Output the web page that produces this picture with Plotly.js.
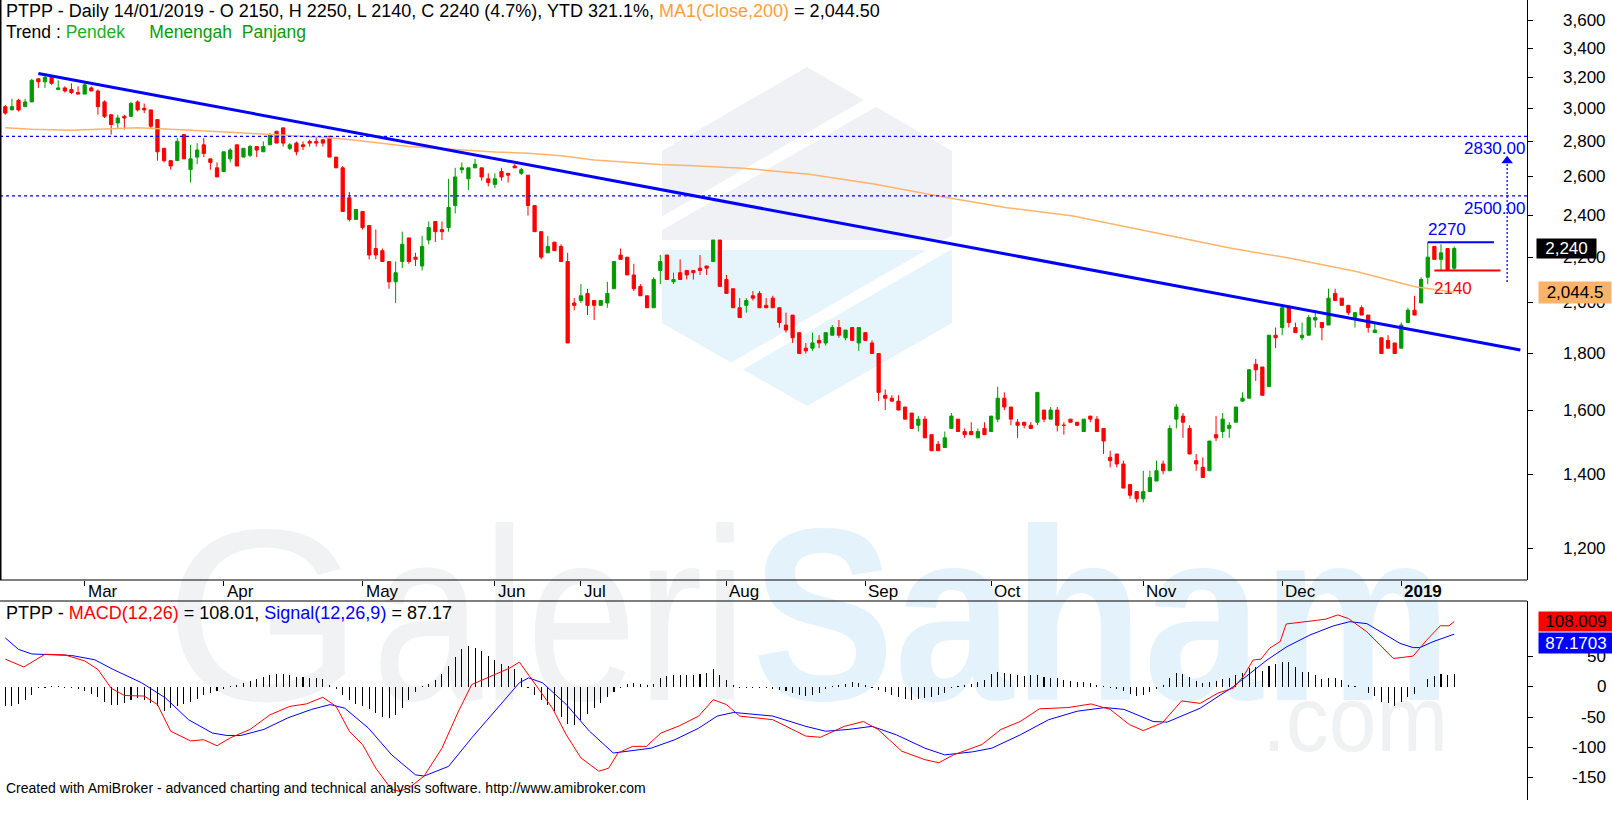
<!DOCTYPE html>
<html><head><meta charset="utf-8">
<script src="https://cdn.plot.ly/plotly-3.0.1.min.js"></script>
<style>
html,body{margin:0;padding:0;background:#fff;}
#wrap{position:relative;width:1612px;height:817px;overflow:hidden;background:#fff;}
#wm{position:absolute;left:0;top:0;}
#chart{position:absolute;left:0;top:0;width:1612px;height:817px;}
</style></head><body>
<div id="wrap">
<svg id="wm" width="1612" height="817" xmlns="http://www.w3.org/2000/svg">
  <defs><clipPath id="hex"><polygon points="662,151 807,67 952,151 952,323 807,406 662,323"/></clipPath></defs>
  <g clip-path="url(#hex)">
    <rect x="650" y="60" width="310" height="180" fill="#eff1f4"/>
    <rect x="650" y="250" width="310" height="170" fill="#e6f4fb"/>
    <line x1="640" y1="236" x2="980" y2="40" stroke="#fff" stroke-width="12"/>
    <line x1="640" y1="422" x2="980" y2="226" stroke="#fff" stroke-width="12"/>
  </g>
  <g font-family="Arial, Liberation Sans, sans-serif">
    <text x="164" y="700" font-size="245" fill="#f1f2f4" textLength="200" lengthAdjust="spacingAndGlyphs">G</text>
    <text x="372" y="700" font-size="245" fill="#f1f2f4" textLength="375" lengthAdjust="spacingAndGlyphs">aleri</text>
    <text x="752" y="700" font-size="245" font-weight="bold" fill="#e4f3fb" textLength="700" lengthAdjust="spacingAndGlyphs">Saham</text>
    <text x="1262" y="751" font-size="92" fill="#f0f1f3" textLength="186" lengthAdjust="spacingAndGlyphs">.com</text>
  </g>
</svg>
<div id="chart"></div>
</div>
<script>
// ---------- DATA ----------
const ticker = 'PTPP';
const lastDate = '14/01/2019';
const openP = [3010,2990,3050,3010,3040,3190,3170,3200,3120,3130,3120,3100,3090,3130,3110,3040,2960,2910,2950,2950,
3040,3000,2990,2930,2760,2690,2690,2840,2640,2710,2780,2700,2650,2630,2700,2780,2710,2720,2770,2740,
2780,2860,2880,2760,2790,2780,2800,2800,2810,2830,2710,2650,2490,2380,2420,2350,2240,2230,2180,2090,
2180,2290,2200,2160,2280,2370,2330,2340,2450,2640,2590,2650,2650,2590,2560,2630,2620,2660,2620,2610,
2450,2320,2220,2270,2250,2180,2000,2010,2040,2010,1990,2000,2060,2210,2200,2120,2070,2030,1980,2140,
2210,2090,2130,2140,2140,2150,2160,2180,2280,2100,2060,1980,1990,2030,2040,1990,2020,1980,1910,1950,
1880,1820,1820,1850,1840,1870,1900,1860,1900,1840,1880,1840,1800,1650,1640,1630,1610,1590,1550,1570,
1520,1490,1480,1540,1570,1530,1530,1510,1540,1530,1570,1640,1610,1560,1560,1550,1560,1600,1570,1600,
1550,1570,1560,1530,1580,1570,1540,1450,1460,1430,1370,1350,1330,1350,1380,1430,1410,1570,1580,1540,
1440,1420,1410,1520,1530,1540,1560,1630,1640,1760,1750,1680,1870,1900,1980,1900,1860,1870,1930,1920,
1910,2040,2020,1990,1940,1980,1950,1880,1860,1850,1840,1820,1920,1970,2000,2110,2250,2190,2240,2150];
const highP = [3020,3060,3060,3060,3190,3190,3220,3210,3180,3140,3160,3140,3160,3140,3120,3050,2960,2960,2960,3040,
3050,3030,2990,2930,2760,2690,2820,2840,2780,2790,2820,2700,2680,2740,2760,2780,2760,2780,2770,2800,
2850,2860,2880,2790,2800,2800,2810,2820,2810,2830,2710,2660,2520,2430,2420,2350,2330,2240,2180,2180,
2320,2290,2220,2300,2370,2370,2370,2590,2650,2680,2650,2700,2650,2620,2620,2650,2620,2670,2650,2610,
2450,2320,2300,2270,2260,2220,2020,2080,2060,2010,2010,2090,2180,2240,2200,2170,2080,2030,2110,2210,
2210,2130,2190,2140,2140,2210,2160,2280,2280,2120,2060,2020,2020,2050,2050,2020,2030,1980,1960,1950,
1880,1840,1880,1870,1880,1910,1930,1890,1900,1900,1880,1850,1800,1670,1650,1650,1610,1590,1580,1580,
1520,1500,1530,1590,1570,1540,1560,1540,1560,1580,1680,1660,1610,1570,1560,1560,1660,1600,1610,1610,
1560,1570,1560,1570,1580,1580,1540,1470,1460,1440,1370,1350,1410,1410,1440,1440,1550,1620,1590,1550,
1460,1450,1500,1580,1590,1560,1610,1660,1740,1780,1750,1870,1900,1990,1990,1920,1920,1950,1970,1920,
2060,2060,2020,1990,1960,1990,1950,1920,1860,1870,1840,1920,1980,2030,2110,2270,2250,2260,2240,2250];
const lowP = [2960,2990,2980,3010,3040,3130,3130,3150,3120,3100,3090,3090,3090,3110,2960,2940,2840,2880,2870,2950,
2980,2970,2880,2690,2680,2640,2690,2700,2570,2670,2710,2640,2600,2630,2680,2660,2710,2710,2710,2740,
2780,2790,2770,2750,2720,2750,2770,2770,2770,2710,2650,2420,2370,2380,2330,2190,2190,2180,2060,2000,
2150,2170,2160,2140,2260,2270,2280,2320,2410,2620,2530,2650,2580,2550,2540,2580,2570,2650,2610,2400,
2320,2190,2220,2230,2180,1840,1970,2000,1950,1930,1990,1980,2060,2190,2120,2050,2030,1980,1980,2080,
2100,2080,2100,2100,2100,2120,2120,2180,2070,2040,1980,1940,1960,2010,1980,1980,1980,1900,1880,1840,
1800,1800,1810,1820,1830,1870,1860,1850,1850,1810,1850,1800,1630,1600,1630,1600,1570,1540,1530,1510,
1470,1470,1480,1540,1530,1510,1520,1510,1520,1530,1560,1600,1550,1510,1540,1540,1550,1560,1570,1530,
1520,1560,1550,1530,1560,1530,1460,1420,1420,1360,1330,1320,1320,1350,1380,1400,1410,1540,1510,1460,
1410,1390,1410,1500,1510,1510,1560,1630,1640,1700,1650,1680,1820,1870,1900,1880,1850,1870,1900,1850,
1910,2010,1990,1950,1900,1950,1880,1880,1800,1820,1800,1820,1920,1950,2000,2080,2190,2140,2140,2140];
const closeP = [2970,3010,2990,3040,3180,3170,3200,3160,3130,3110,3100,3090,3150,3110,3010,2950,2900,2940,2940,3030,
2990,2990,2890,2740,2690,2660,2800,2700,2700,2750,2730,2680,2600,2740,2750,2660,2760,2770,2750,2770,
2840,2790,2790,2780,2740,2770,2790,2790,2790,2710,2650,2420,2380,2430,2340,2210,2210,2180,2090,2130,
2260,2180,2190,2250,2340,2320,2320,2440,2600,2650,2650,2670,2600,2570,2590,2600,2610,2650,2640,2450,
2320,2200,2250,2230,2180,1840,1990,2030,1990,1990,2010,2040,2180,2190,2120,2060,2030,1980,2100,2180,
2100,2100,2100,2120,2130,2140,2150,2280,2070,2040,1980,1940,2010,2020,1980,1980,1980,1920,1890,1860,
1800,1810,1840,1840,1880,1900,1870,1890,1850,1900,1850,1800,1660,1640,1630,1600,1570,1540,1570,1510,
1470,1470,1510,1580,1530,1520,1520,1530,1520,1580,1640,1610,1570,1550,1550,1540,1660,1570,1600,1550,
1550,1560,1550,1570,1570,1530,1500,1440,1430,1360,1340,1330,1350,1390,1410,1410,1540,1610,1560,1460,
1430,1390,1500,1510,1570,1550,1610,1640,1740,1740,1650,1870,1860,1980,1920,1880,1870,1940,1940,1900,
2020,2010,1990,1960,1960,1950,1900,1890,1800,1820,1800,1910,1970,1950,2100,2200,2190,2220,2140,2240];

// MA(Close,200) (bar index, value)
const maIdx = [0,4,10,16,20,25,28,31,34,37,41,45,50,54,58,61,65,69,74,79,84,89,94,99,104,111.5,121.5,131.5,141.4,151.4,161.4,171.3,181.3,185.3,194.2,204.2,213.1,219];
const maVal = [2880,2872,2866,2874,2880,2872,2864,2860,2854,2848,2838,2832,2819,2803,2784,2770,2761,2751,2739,2732,2717,2694,2679,2668,2661,2648,2615,2561,2496,2439,2397,2332,2265,2241,2195,2135,2069,2044.5];

// Down trend line (bar index, price)
const trendIdx = [5, 229];
const trendVal = [3226, 1813];

// Levels
const resistLevels = [2830, 2500];
const rangeHigh = 2270, rangeLow = 2140;
const rangeHighIdx = [215, 225], rangeLowIdx = [216, 226];
const arrowIdx = 227, arrowFrom = 2089, arrowTo = 2690;
const maLast = 2044.5;
const titleExtra = {chgPct: '4.7%', ytd: '321.1%', maText: '2,044.50'};

// MACD(12,26), Signal(9)
const macdIdx = [0,2.8,6,9,12,14,16,18,21,23,25,28,30,32,34,37,40,43,45.5,48,50,52,54,56,58.4,59.5,61,63.3,66,68.5,70.5,73.4,76.2,77.7,80.5,82.7,84.8,87,89.7,91.2,92.6,94.8,96.9,99.1,101.9,104.8,107,109,111,116,121,123.2,126.8,129.7,131.9,135.5,139,141.1,143.3,147.6,150.5,153.4,156.3,160.6,164.1,167,169.9,172,174.9,177.8,180.6,183.3,185.6,187.1,188.6,189.8,191.1,192.7,193.6,195.5,198.2,199.6,201.4,203,205.8,207.8,209.8,212.8,214.8,216.9,218.2,219];
const macdVal = [46,33,54,53,43,29,-2,-14,-15,-29,-73,-89,-87,-97,-84,-70,-46,-32,-28,-17,-32,-73,-95,-134,-169,-172,-167,-147,-101,-40,4,18,31,41,-2,-35,-79,-117,-139,-134,-109,-98,-98,-76,-64,-48,-21,-29,-48,-54,-81,-83,-65,-57,-70,-106,-120,-125,-112,-95,-70,-57,-36,-34,-28,-37,-62,-72,-59,-23,-27,-10,-2,17,44.5,46,64,75,104,106,110,112,119,113,91,69,47,51,77,101,101,108.01];
const sigIdx = [0,2,4,10,13.5,16.3,20.6,24.2,27.7,31.3,33.5,35.6,39.1,42.7,46.3,49.1,51.3,54.9,58.4,62,63.3,67,70.5,74.8,77.7,79.1,81.2,84.8,88.3,91.9,94,97.6,101.2,104.8,107.6,110.1,116,121,124,127.5,131,134.7,139,142,146.2,149.1,153.4,157.7,162,166.2,169.1,173.5,175.6,180.6,185.6,188.1,190.7,193.7,197.2,200.7,203.2,205.8,208.3,210.8,212.8,213.8,215.8,219];
const sigVal = [81,62,54.5,52,45,29,7,-18,-54,-76,-80,-80,-70,-51,-37,-29,-35,-68,-112,-145,-147,-131,-84,-29,7,15,7,-29,-73,-109,-106,-101,-87,-68,-48,-42,-48,-65,-73,-70,-65,-79,-101,-112,-107,-101,-79,-54,-40,-34,-37,-57,-58,-35,0.5,22.6,44.5,66.5,85.8,100.7,107.8,104.5,88.6,72,65,65,74.8,87.17];
const histVal = [-32,-32,-28,-21,-13,-2,-1,1,1,-1,
-2,-4,-7,-12,-17,-24,-29,-29,-26,-21,
-18,-21,-26,-32,-39,-35,-32,-28,-24,-19,
-14,-10,-6,-3,1,3,7,10,13,17,
20,21,21,19,17,16,15,15,13,4,
-4,-13,-21,-28,-32,-37,-43,-50,-51,-46,
-35,-21,-8,1,5,12,21,34,49,62,
67,65,59,51,45,38,34,29,15,-2,
-13,-21,-30,-40,-50,-61,-62,-54,-45,-35,
-26,-17,-8,-1,5,7,5,3,5,15,
18,19,19,20,20,21,23,30,20,12,
3,-2,-2,-2,-2,-2,-4,-5,-7,-10,
-13,-15,-13,-10,-4,1,3,5,8,6,
3,-1,-5,-8,-14,-16,-19,-21,-19,-18,
-17,-14,-10,-1,1,3,5,9,12,21,
25,23,21,19,18,19,20,17,15,15,
12,10,9,8,7,3,1,-1,-3,-7,
-12,-15,-13,-9,-4,4,15,23,21,16,
10,6,8,10,13,15,20,23,31,33,
27,35,38,41,42,33,25,24,20,13,
15,15,12,4,1,0,-10,-15,-24,-27,
-31,-24,-16,-12,0,13,18,21,20,21];
const macdLast = 108.009, sigLast = 87.1703;

// Axis labels
const monthIdx = [12,33,54,74,87,109,130,149,172,193,211];
const monthLbl = ['Mar','Apr','May','Jun','Jul','Aug','Sep','Oct','Nov','Dec','2019'];
const priceTicks = [1200,1400,1600,1800,2000,2200,2400,2600,2800,3000,3200,3400,3600];
const macdTicks = [50,0,-50,-100,-150];

// ---------- LAYOUT HELPERS ----------
const FONT = 'Arial, "Liberation Sans", sans-serif';
const W = 1612, H = 817, ML = 0, MR = 85, MT = 0, MB = 17;
const PW = W - ML - MR, PH = H - MT - MB;
const pxX = p => p / PW;              // figure px -> paper x
const pxY = p => (PH - p) / PH;       // figure px -> paper y
const XR = [-0.8, 230];
const xOut = p => XR[0] + (XR[1] - XR[0]) * p / PW;  // x value at a px beyond plot
const idx = closeP.map((_, i) => i);
const last = closeP.length - 1;
const fmt = v => v.toLocaleString('en-US');
const L10 = Math.log10;

const GREEN = '#009a00', RED = '#ff0000', BLUE = '#0000ff', ORANGE_LINE = '#ffb469', ORANGE_TXT = '#ff9d3c';

const traces = [
  {type:'candlestick', x: idx, open: openP, high: highP, low: lowP, close: closeP,
   xaxis:'x', yaxis:'y', whiskerwidth: 0,
   increasing:{line:{color:GREEN, width:1}, fillcolor:GREEN},
   decreasing:{line:{color:RED, width:1}, fillcolor:RED}, hoverinfo:'skip', showlegend:false},
  {type:'scatter', mode:'lines', x: maIdx, y: maVal, line:{color:ORANGE_LINE, width:1.5}, xaxis:'x', yaxis:'y', hoverinfo:'skip'},
  {type:'scatter', mode:'lines', x: trendIdx, y: trendVal, line:{color:BLUE, width:3}, xaxis:'x', yaxis:'y', hoverinfo:'skip'},
  ...resistLevels.map(v => ({type:'scatter', mode:'lines', x: XR, y:[v, v], line:{color:BLUE, width:1.3, dash:'3px,3px'}, xaxis:'x', yaxis:'y', hoverinfo:'skip'})),
  {type:'scatter', mode:'lines', x: rangeHighIdx, y:[rangeHigh, rangeHigh], line:{color:BLUE, width:2}, xaxis:'x', yaxis:'y', hoverinfo:'skip'},
  {type:'scatter', mode:'lines', x: rangeLowIdx, y:[rangeLow, rangeLow], line:{color:RED, width:2}, xaxis:'x', yaxis:'y', hoverinfo:'skip'},
  {type:'scatter', mode:'lines', x:[arrowIdx, arrowIdx], y:[arrowFrom, arrowTo], line:{color:BLUE, width:1.3, dash:'2px,2px'}, xaxis:'x', yaxis:'y', hoverinfo:'skip'},
  {type:'scatter', mode:'markers', x:[arrowIdx], y:[arrowTo], marker:{symbol:'triangle-up', size:10, color:BLUE}, xaxis:'x', yaxis:'y', hoverinfo:'skip', cliponaxis:false},
  {type:'bar', x: idx, y: histVal, width: 0.16, marker:{color:'#000', line:{width:0}}, xaxis:'x2', yaxis:'y2', hoverinfo:'skip'},
  {type:'scatter', mode:'lines', x: sigIdx, y: sigVal, line:{color:BLUE, width:1}, xaxis:'x2', yaxis:'y2', hoverinfo:'skip'},
  {type:'scatter', mode:'lines', x: macdIdx, y: macdVal, line:{color:RED, width:1}, xaxis:'x2', yaxis:'y2', hoverinfo:'skip'},
  // value-box pointers
  {type:'scatter', mode:'markers', x:[xOut(1533)], y:[closeP[last]], marker:{symbol:'triangle-left', size:16, color:'#000'}, xaxis:'x', yaxis:'y', cliponaxis:false, hoverinfo:'skip'},
  {type:'scatter', mode:'markers', x:[xOut(1533)], y:[macdLast], marker:{symbol:'triangle-left', size:16, color:RED}, xaxis:'x2', yaxis:'y2', cliponaxis:false, hoverinfo:'skip'}
];

const ann = [];
const A = (o) => ann.push(Object.assign({showarrow:false, font:{family:FONT, size:17, color:'#000'}}, o));

// titles
const chg = titleExtra.chgPct;
A({xref:'paper', yref:'paper', x:pxX(4), y:pxY(11), xanchor:'left', yanchor:'middle', font:{family:FONT, size:18, color:'#000'},
   text: `${ticker} - Daily ${lastDate} - O ${openP[last]}, H ${highP[last]}, L ${lowP[last]}, C ${closeP[last]} (${chg}), YTD ${titleExtra.ytd}, <span style="color:${ORANGE_TXT}">MA1(Close,200)</span> = ${titleExtra.maText}`});
A({xref:'paper', yref:'paper', x:pxX(4), y:pxY(32), xanchor:'left', yanchor:'middle', font:{family:FONT, size:17.5, color:'#000'},
   text: `Trend : <span style="color:#1fae1f">Pendek</span>     <span style="color:#0a9a0a">Menengah</span>  <span style="color:#0a9a0a">Panjang</span>`});
A({xref:'paper', yref:'paper', x:pxX(4), y:pxY(613), xanchor:'left', yanchor:'middle', font:{family:FONT, size:18, color:'#000'},
   text: `${ticker} - <span style="color:${RED}">MACD(12,26)</span> = ${macdLast.toFixed(2)}, <span style="color:${BLUE}">Signal(12,26,9)</span> = ${sigLast.toFixed(2)}`});
A({xref:'paper', yref:'paper', x:pxX(4), y:pxY(788), xanchor:'left', yanchor:'middle', font:{family:FONT, size:14, color:'#000'},
   text: 'Created with AmiBroker - advanced charting and technical analysis software. http://www.amibroker.com'});

// month labels
monthIdx.forEach((m, k) => A({xref:'x', yref:'paper', x:m, xshift:1, y:pxY(591), xanchor:'left', yanchor:'middle',
   text: monthLbl[k] === '2019' ? '<b>2019</b>' : monthLbl[k]}));

// price & macd tick labels (right aligned)
priceTicks.forEach(v => A({xref:'paper', yref:'y', x:pxX(1608), y:L10(v), xanchor:'right', yanchor:'middle', text: fmt(v)}));
macdTicks.forEach(v => A({xref:'paper', yref:'y2', x:pxX(1608), y:v, xanchor:'right', yanchor:'middle', text: String(v)}));

// level labels
resistLevels.forEach(v => A({xref:'paper', yref:'y', x:pxX(1527), y:L10(v), xanchor:'right', yanchor:'top', yshift:-1,
   font:{family:FONT, size:17, color:BLUE}, text: v.toFixed(2)}));
A({xref:'x', yref:'y', x:rangeHighIdx[0], xshift:-2, y:L10(rangeHigh), xanchor:'left', yanchor:'bottom', yshift:1,
   font:{family:FONT, size:17, color:BLUE}, text: String(rangeHigh)});
A({xref:'x', yref:'y', x:rangeLowIdx[0], xshift:-2, y:L10(rangeLow), xanchor:'left', yanchor:'top', yshift:-7,
   font:{family:FONT, size:17, color:RED}, text: String(rangeLow)});

// value boxes
A({xref:'paper', yref:'y', x:pxX(1536), y:L10(closeP[last]), xanchor:'left', yanchor:'middle', width:59, height:19, borderpad:0,
   bgcolor:'#000', font:{family:FONT, size:17, color:'#fff'}, text: fmt(closeP[last])});
A({xref:'paper', yref:'y', x:pxX(1538), y:L10(maLast), xanchor:'left', yanchor:'middle', width:72, height:21, borderpad:0,
   bgcolor:'#f9b36b', font:{family:FONT, size:17, color:'#000'}, text: fmt(maLast)});
A({xref:'paper', yref:'y2', x:pxX(1538), y:macdLast, xanchor:'left', yanchor:'middle', width:74, height:19, borderpad:0,
   bgcolor:RED, font:{family:FONT, size:17, color:'#000'}, text: macdLast.toFixed(3)});
A({xref:'paper', yref:'y2', x:pxX(1538), y:sigLast, yshift:-9, xanchor:'left', yanchor:'middle', width:74, height:20, borderpad:0,
   bgcolor:BLUE, font:{family:FONT, size:17, color:'#fff'}, text: sigLast.toFixed(4)});

const shapes = [
  {type:'line', xref:'paper', yref:'paper', x0:0, x1:1, y0:pxY(580), y1:pxY(580), line:{color:'#000', width:1}},
  {type:'line', xref:'paper', yref:'paper', x0:0, x1:1, y0:pxY(601), y1:pxY(601), line:{color:'#000', width:1}},
  {type:'line', xref:'paper', yref:'paper', x0:pxX(0.5), x1:pxX(0.5), y0:pxY(580), y1:1, line:{color:'#000', width:2}}
];

const layout = {
  width: W, height: H, margin:{l:ML, r:MR, t:MT, b:MB, pad:0},
  paper_bgcolor:'rgba(0,0,0,0)', plot_bgcolor:'rgba(0,0,0,0)',
  showlegend:false, hovermode:false, bargap:0,
  font:{family:FONT, size:17, color:'#000'},
  xaxis:{domain:[0,1], range:XR, anchor:'y', tickvals: monthIdx, ticks:'outside', ticklen:5, tickcolor:'#000',
         showticklabels:false, showgrid:false, zeroline:false, showline:false, rangeslider:{visible:false}, fixedrange:true},
  yaxis:{type:'log', domain:[pxY(580),1], range:[L10(1123), L10(3759)], side:'right', anchor:'x',
         tickvals: priceTicks, ticks:'outside', ticklen:5, tickcolor:'#000', showticklabels:false,
         showgrid:false, zeroline:false, showline:true, linecolor:'#000', linewidth:1, fixedrange:true},
  xaxis2:{domain:[0,1], range:XR, anchor:'y2', visible:false, fixedrange:true},
  yaxis2:{domain:[0,pxY(601)], range:[-186.5, 141.9], side:'right', anchor:'x2',
         tickvals: macdTicks, ticks:'outside', ticklen:5, tickcolor:'#000', showticklabels:false,
         showgrid:false, zeroline:false, showline:true, linecolor:'#000', linewidth:1, fixedrange:true},
  annotations: ann, shapes: shapes
};

Plotly.newPlot('chart', traces, layout, {staticPlot:true, displayModeBar:false});
</script>
</body></html>
